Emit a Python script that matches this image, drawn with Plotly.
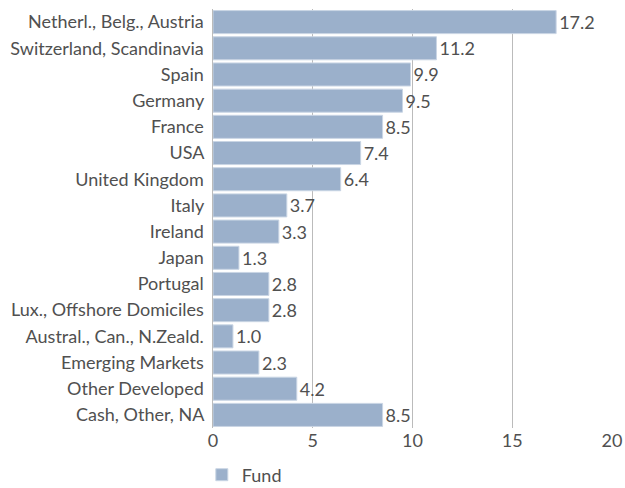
import plotly.graph_objects as go

categories = ["Netherl., Belg., Austria", "Switzerland, Scandinavia", "Spain", "Germany",
              "France", "USA", "United Kingdom", "Italy", "Ireland", "Japan", "Portugal",
              "Lux., Offshore Domiciles", "Austral., Can., N.Zeald.", "Emerging Markets",
              "Other Developed", "Cash, Other, NA"]
fund = [17.2, 11.2, 9.9, 9.5, 8.5, 7.4, 6.4, 3.7, 3.3, 1.3, 2.8, 2.8, 1.0, 2.3, 4.2, 8.5]
x_ticks = [0, 5, 10, 15, 20]

font_family = "Lato, Noto Sans, sans-serif"
txt_color = "#505050"
fs = 18
fig = go.Figure(go.Bar(
    y=categories, x=fund, orientation="h", name="Fund",
    marker=dict(color="#9BB0CB", line=dict(color="#C9D5E4", width=1)),
    text=[f"{v:.1f}" for v in fund], textposition="outside",
    textfont=dict(size=fs, color=txt_color, family=font_family),
    cliponaxis=False,
))
fig.update_layout(
    width=625, height=488,
    margin=dict(l=213, r=13, t=9, b=60, autoexpand=False),
    plot_bgcolor="white", paper_bgcolor="white",
    bargap=0.12,
    font=dict(family=font_family, size=fs, color=txt_color),
    showlegend=True,
    legend=dict(orientation="h", x=-0.028, xanchor="left", y=-0.068, yanchor="top",
                font=dict(size=fs, color=txt_color), itemwidth=30,
                bgcolor="rgba(0,0,0,0)"),
    xaxis=dict(range=[0, 20], tickvals=x_ticks, showgrid=True, gridcolor="#BBBBBB",
               gridwidth=1, zeroline=False, showline=False, ticks="", automargin=False,
               tickfont=dict(size=fs, color=txt_color)),
    yaxis=dict(autorange="reversed", showgrid=False, zeroline=False, ticks="",
               showline=True, linecolor="#BBBBBB", linewidth=1, automargin=False,
               tickfont=dict(size=fs, color=txt_color), ticksuffix=" "),
)
fig.write_html("out.html", config={"displayModeBar": False},
               post_script="document.body.style.margin='0';document.body.style.overflow='hidden';")
